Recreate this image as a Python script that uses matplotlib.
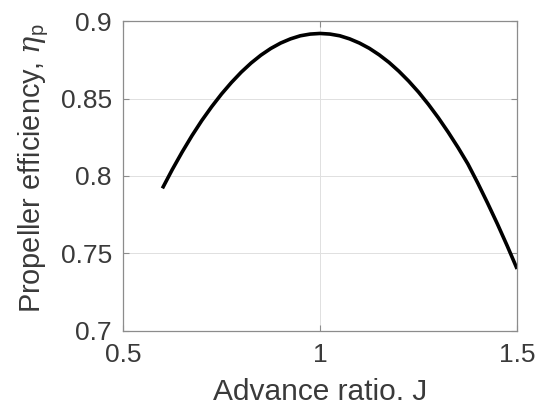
import matplotlib
matplotlib.use("Agg")
import matplotlib.pyplot as plt

advance_ratio = [0.600, 0.625, 0.650, 0.675, 0.700, 0.725, 0.750, 0.775, 0.800,
                 0.825, 0.850, 0.875, 0.900, 0.925, 0.950, 0.975, 1.000, 1.025,
                 1.050, 1.075, 1.100, 1.125, 1.150, 1.175, 1.200, 1.225, 1.250,
                 1.275, 1.300, 1.325, 1.350, 1.375, 1.400, 1.425, 1.450, 1.475,
                 1.500]
efficiency = [0.7920, 0.8041, 0.8154, 0.8260, 0.8358, 0.8447, 0.8529, 0.8603, 0.8670,
              0.8729, 0.8780, 0.8823, 0.8858, 0.8885, 0.8905, 0.8916, 0.8920, 0.8916,
              0.8905, 0.8885, 0.8858, 0.8824, 0.8782, 0.8733, 0.8676, 0.8612, 0.8541,
              0.8462, 0.8376, 0.8283, 0.8184, 0.8078, 0.7955, 0.7825, 0.7690, 0.7548,
              0.7400]
x_ticks = [0.5, 1.0, 1.5]
x_tick_labels = ["0.5", "1", "1.5"]
y_ticks = [0.7, 0.75, 0.8, 0.85, 0.9]
y_tick_labels = ["0.7", "0.75", "0.8", "0.85", "0.9"]

plt.rcParams['font.family'] = ['Liberation Sans', 'DejaVu Sans']
plt.rcParams['mathtext.fontset'] = 'custom'
plt.rcParams['mathtext.rm'] = 'Liberation Sans'
plt.rcParams['mathtext.it'] = 'DejaVu Serif:italic'

fig = plt.figure(figsize=(5.37, 4.05), dpi=100)
ax = fig.add_axes([0.229, 0.183, 0.734, 0.765])

ax.plot(advance_ratio, efficiency, color='black', linewidth=2.6,
        solid_capstyle='butt', solid_joinstyle='round')

ax.set_xlim(0.5, 1.5)
ax.set_ylim(0.7, 0.9)
ax.set_xticks(x_ticks)
ax.set_xticklabels(x_tick_labels)
ax.set_yticks(y_ticks)
ax.set_yticklabels(y_tick_labels)

ax.grid(True, color='#e0e0e0', linewidth=0.7)
ax.set_axisbelow(True)
for s in ax.spines.values():
    s.set_color('#8c8c8c')
    s.set_linewidth(0.9)
ax.tick_params(direction='in', length=4, width=0.8, color='#8c8c8c',
               labelsize=19, labelcolor='#3a3a3a', top=True, right=True)
ax.tick_params(axis='x', pad=9)
ax.tick_params(axis='y', pad=8)

ax.set_xlabel('Advance ratio. J', fontsize=21.5, color='#3a3a3a')
ax.set_ylabel(r'Propeller efficiency, $\eta_\mathrm{p}$', fontsize=20.8,
              color='#3a3a3a')
ax.xaxis.set_label_coords(0.5, -0.152)
ax.yaxis.set_label_coords(-0.183, 0.525)

fig.savefig('out.png', dpi=100)
